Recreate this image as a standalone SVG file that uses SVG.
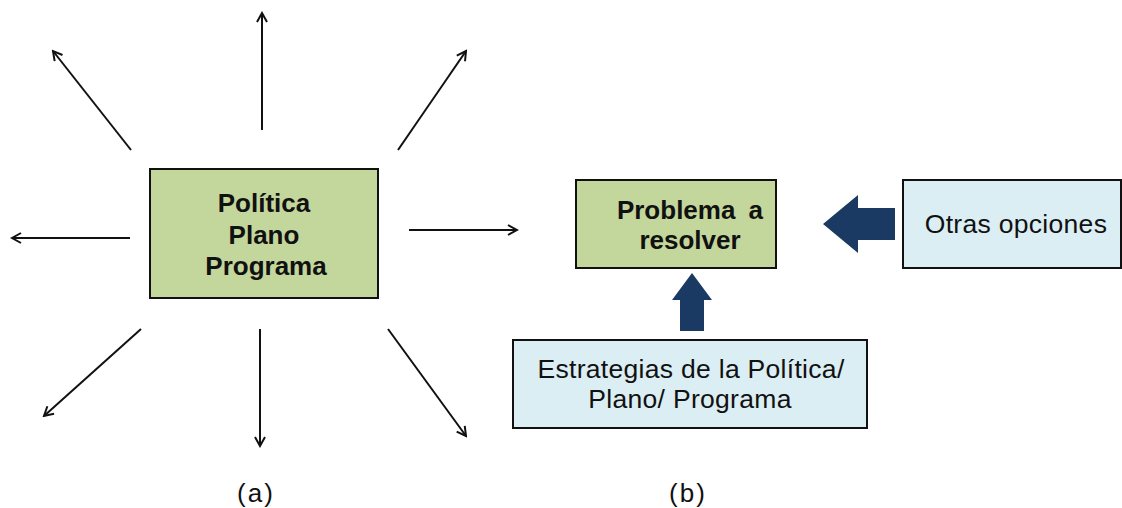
<svg xmlns="http://www.w3.org/2000/svg" width="1122" height="508" viewBox="0 0 1122 508">
  <style>
    .green { fill: #c3d69b; stroke: #111; stroke-width: 2; }
    .blue { fill: #dbeef4; stroke: #111; stroke-width: 2; }
    .t { font-family: "Liberation Sans", Arial, sans-serif; font-size: 26.5px; fill: #111; text-anchor: middle; }
    .r { letter-spacing: 0.3px; }
    .b { font-weight: bold; font-size: 26px; }
    .cap { font-size: 26px; letter-spacing: 2px; }
    .ray { stroke: #111; stroke-width: 2; fill: none; marker-end: url(#head); }
    .block { fill: #1b3a63; }
  </style>
  <defs>
    <marker id="head" viewBox="0 0 12 12" refX="10" refY="6" markerWidth="12" markerHeight="12" markerUnits="userSpaceOnUse" orient="auto">
      <path d="M1,1 L10,6 L1,11" fill="none" stroke="#111" stroke-width="2"/>
    </marker>
  </defs>
  <rect width="1122" height="508" fill="#ffffff"/>

  <g id="connectors">
    <line class="ray" x1="262" y1="130" x2="262" y2="13"/>
    <line class="ray" x1="131" y1="150" x2="53" y2="51"/>
    <line class="ray" x1="398" y1="150" x2="466" y2="51"/>
    <line class="ray" x1="130" y1="238" x2="12" y2="238"/>
    <line class="ray" x1="409" y1="230" x2="517" y2="230"/>
    <line class="ray" x1="141" y1="329" x2="44" y2="416"/>
    <line class="ray" x1="260" y1="329" x2="260" y2="446"/>
    <line class="ray" x1="388" y1="329" x2="466" y2="436"/>
    <polygon class="block" points="895,208 858,208 858,195 823,224 858,253 858,240 895,240"/>
    <polygon class="block" points="680,331 680,300 672,300 692,273 712,300 704,300 704,331"/>
  </g>

  <g id="politica">
    <rect class="green" x="150" y="169" width="228" height="129"/>
    <text class="t b" x="264" y="212">Política</text>
    <text class="t b" x="264" y="244">Plano</text>
    <text class="t b" x="266" y="275">Programa</text>
  </g>

  <g id="problema">
    <rect class="green" x="576" y="180" width="200" height="88"/>
    <text class="t b" x="690" y="219" word-spacing="6">Problema a</text>
    <text class="t b" x="690" y="249">resolver</text>
  </g>

  <g id="otras">
    <rect class="blue" x="903" y="180" width="218" height="88"/>
    <text class="t r" x="1016" y="233">Otras opciones</text>
  </g>

  <g id="estrategias">
    <rect class="blue" x="513" y="340" width="354" height="88"/>
    <text class="t r" x="691" y="378">Estrategias de la Política/</text>
    <text class="t r" x="690" y="408">Plano/  Programa</text>
  </g>

  <g id="labels">
    <text class="t cap" x="256" y="502">(a)</text>
    <text class="t cap" x="688" y="502">(b)</text>
  </g>
</svg>
